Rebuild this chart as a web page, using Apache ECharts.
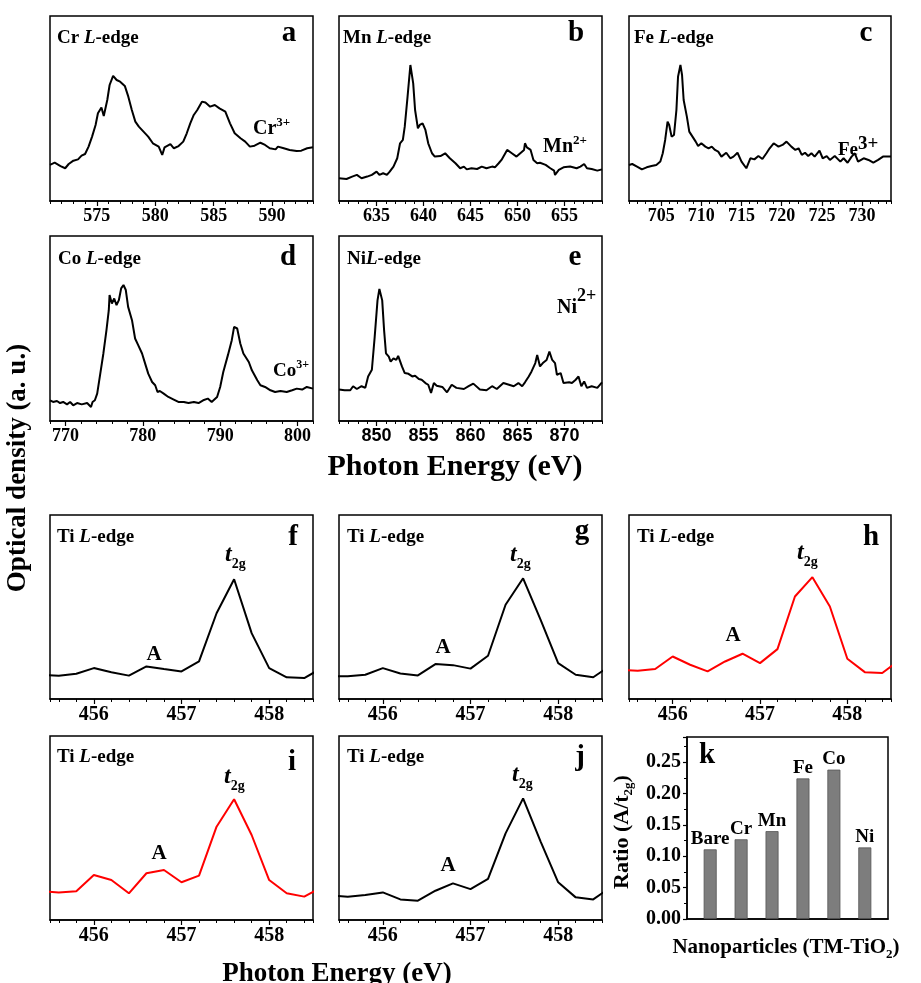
<!DOCTYPE html>
<html><head><meta charset="utf-8">
<script src="https://cdn.jsdelivr.net/npm/echarts@6/dist/echarts.min.js"></script>
<style>html,body{margin:0;padding:0;background:#fff}#c{width:921px;height:983px}</style>
</head><body><div id="c"></div>
<script>
// ---------- DATA ----------
const crEnergy = [571.0,571.4,571.9,572.3,572.6,573.0,573.4,573.7,574.0,574.3,574.6,574.9,575.1,575.4,575.6,575.9,576.1,576.4,576.7,577.0,577.4,577.7,578.0,578.3,578.6,579.0,579.4,579.8,580.3,580.6,580.8,581.3,581.6,582.0,582.4,582.7,583.0,583.3,583.6,584.0,584.3,584.7,585.1,585.5,586.0,586.4,586.8,587.3,587.7,588.1,588.5,589.0,589.4,589.8,590.3,590.5,591.0,591.5,592.1,592.5,593.0,593.5];
const crOD = [19.5,20.7,18.9,17.7,20.0,21.8,22.5,24.5,25.4,29.4,34.8,41.1,47.4,50.6,45.9,54.6,62.7,67.6,65.4,64.5,62.2,56.4,49.2,42.9,40.2,37.5,34.8,31.2,29.4,24.9,29.0,30.8,28.5,29.7,32.1,36.6,42.0,46.5,49.2,53.7,53.2,51.0,51.9,50.1,48.3,42.0,36.6,33.9,32.1,29.4,29.9,31.5,30.3,28.5,27.9,29.4,28.5,27.6,27.0,27.2,28.5,29.0];

const mnEnergy = [631.0,631.8,632.4,632.9,633.4,634.0,634.5,635.0,635.3,635.7,636.1,636.4,636.8,637.2,637.5,637.8,638.0,638.3,638.6,638.9,639.1,639.4,639.6,639.9,640.2,640.5,640.9,641.2,641.8,642.3,642.8,643.4,643.9,644.3,644.6,645.1,645.7,646.2,646.7,647.3,647.6,648.0,648.3,648.9,649.4,649.9,650.3,650.7,650.8,651.0,651.4,651.7,652.1,652.4,653.0,653.5,653.9,654.0,654.4,654.9,655.6,656.3,656.7,657.1,657.4,657.9,658.5,659.0];
const mnOD = [12.3,11.9,13.2,14.1,12.3,13.2,14.1,15.9,14.1,15.0,14.1,15.9,18.6,23.1,31.2,33.0,40.2,56.4,73.5,63.6,49.2,39.3,41.1,42.0,38.4,31.2,25.8,24.0,24.3,25.8,23.1,20.4,17.7,18.6,17.1,17.7,17.3,18.6,17.7,18.6,18.2,20.4,22.2,27.6,25.8,24.0,25.8,27.6,31.2,29.0,27.6,22.2,20.4,20.7,19.5,17.7,16.4,14.1,16.8,18.2,18.6,17.7,18.6,20.0,17.7,17.3,16.4,17.1];

const feEnergy = [701.0,701.4,702.0,702.6,703.2,703.8,704.4,704.9,705.2,705.5,705.8,706.0,706.3,706.6,706.9,707.1,707.4,707.6,707.8,708.2,708.5,708.9,709.3,709.6,710.0,710.5,710.9,711.3,711.7,712.1,712.5,713.1,713.6,714.0,714.5,715.0,715.6,716.1,716.6,717.1,717.6,718.1,718.5,719.0,719.6,720.1,720.6,721.2,721.7,722.1,722.5,722.9,723.3,723.7,724.1,724.7,725.1,725.6,726.0,726.6,727.3,727.7,728.2,728.7,729.1,729.5,730.2,730.8,731.4,732.0,732.6,733.6];
const feOD = [19.5,20.0,18.6,17.1,18.2,18.9,19.5,21.3,25.8,33.0,42.9,41.1,34.8,35.7,49.2,67.2,73.5,68.1,54.6,45.6,37.5,34.8,32.1,29.7,31.2,29.4,28.5,29.4,27.6,26.7,24.0,26.1,23.1,24.0,26.1,21.3,17.7,23.1,22.5,24.3,22.7,25.8,28.5,31.2,29.4,30.3,32.1,29.4,27.6,28.5,24.9,26.1,24.3,25.8,24.0,27.2,23.1,24.3,22.2,24.3,21.3,23.1,20.7,24.0,25.8,21.3,23.1,22.2,20.7,22.2,24.0,24.0];

const coEnergy = [768.0,768.4,768.9,769.3,769.7,770.2,770.6,771.0,771.5,772.1,772.8,773.3,773.5,773.8,774.1,774.5,774.9,775.3,775.6,775.7,776.0,776.3,776.6,776.9,777.2,777.5,777.8,778.1,778.6,779.0,779.4,779.9,780.3,780.7,781.2,781.6,781.9,782.2,782.7,783.3,784.0,784.6,785.3,785.9,786.6,787.2,787.8,788.4,788.9,789.6,790.0,790.4,791.0,791.5,791.8,792.2,792.6,793.0,793.7,794.1,794.8,795.2,795.8,796.5,797.1,797.8,798.6,799.3,799.9,800.6,801.2,802.0];
const coOD = [11.2,10.3,10.8,9.7,10.3,9.0,10.3,8.5,9.7,9.0,9.7,7.6,10.3,11.2,14.8,25.6,36.5,49.1,59.9,68.1,63.5,66.2,62.6,65.3,71.7,73.5,70.8,61.7,54.5,44.6,41.0,36.5,31.0,25.6,21.1,19.3,15.7,16.2,14.8,13.0,11.6,10.3,10.3,9.7,10.3,9.7,11.2,12.1,10.3,13.0,18.4,26.5,35.6,43.7,50.9,50.0,41.9,36.5,31.9,27.4,22.0,19.3,18.4,16.6,15.7,16.2,15.7,16.6,17.5,17.0,18.4,17.5];

const niEnergy = [846.0,846.6,847.2,847.5,847.9,848.4,848.8,849.1,849.5,849.8,850.1,850.3,850.6,850.8,851.0,851.3,851.5,851.8,852.1,852.3,852.7,853.0,853.4,853.8,854.1,854.5,854.8,855.2,855.5,855.8,856.1,856.4,857.0,857.5,858.0,858.5,859.3,859.8,860.3,861.0,861.7,862.3,862.8,863.5,864.1,864.6,865.1,865.5,865.8,866.2,866.5,866.9,867.1,867.4,867.7,868.1,868.4,868.7,869.0,869.2,869.6,869.9,870.5,870.8,871.2,871.5,871.8,872.1,872.4,872.9,873.5,874.0];
const niOD = [17.0,16.6,16.6,18.8,17.3,18.8,17.9,24.1,27.7,45.5,65.2,71.4,65.2,49.1,36.6,34.8,32.1,33.9,33.0,35.2,29.5,25.9,25.5,24.1,24.5,22.7,22.3,20.5,19.6,15.2,20.5,19.1,18.4,15.5,19.6,17.9,17.3,18.8,20.2,17.0,16.6,18.8,17.3,20.5,19.6,18.8,20.5,18.8,20.9,24.1,26.8,31.3,35.7,29.5,31.3,33.0,37.5,33.0,31.3,25.0,25.9,20.5,20.9,20.5,22.3,24.1,18.8,21.4,17.9,18.8,17.9,20.9];

const tiEnergy = [455.4,455.6,455.8,456.0,456.2,456.4,456.6,456.8,457.0,457.2,457.4,457.6,457.8,458.0,458.2,458.4,458.6];
const tiF = [13.0,12.7,13.7,16.8,14.5,12.7,17.7,16.3,15.0,20.4,46.6,65.1,35.8,16.8,11.8,11.4,16.8];
const tiG = [12.3,12.3,13.2,16.8,13.9,12.8,19.0,18.4,16.5,23.5,51.2,65.6,43.0,19.5,13.2,11.8,18.3];
const tiH = [15.7,15.4,16.3,23.1,18.6,15.0,20.4,24.6,19.5,27.1,55.7,66.2,50.3,21.9,14.6,14.1,21.3];
const tiI = [15.6,15.0,15.6,24.5,21.7,14.5,25.4,27.2,20.5,24.1,50.7,65.6,46.2,21.7,14.5,12.7,17.8];
const tiJ = [13.2,12.7,13.6,15.0,11.2,10.5,15.9,19.9,16.8,22.3,47.1,66.1,42.6,20.5,12.3,11.2,17.8];

const tmCategories = ['Bare','Cr','Mn','Fe','Co','Ni'];
const tmRatio = [0.111,0.127,0.140,0.224,0.238,0.114];

// ---------- LAYOUT ----------
const SERIF = '"Liberation Serif", "Times New Roman", serif';
const SANS = '"Liberation Sans", Arial, sans-serif';
const F = (s, it, fam) => (it ? 'italic ' : '') + 'bold ' + s + 'px ' + (fam || SERIF);

const panels = [
  {g:[50,16,263,185],  x:crEnergy, y:crOD, min:571, max:593.5, major:5, minor:1, fs:18},
  {g:[339,16,263,185], x:mnEnergy, y:mnOD, min:631, max:659, major:5, minor:1, fs:18},
  {g:[629,16,262,185], x:feEnergy, y:feOD, min:701, max:733.6, major:5, minor:1, fs:18},
  {g:[50,236,263,185], x:coEnergy, y:coOD, min:768, max:802, major:10, minor:2, fs:18},
  {g:[339,236,263,185],x:niEnergy, y:niOD, min:846, max:874, major:5, minor:1, fs:18, sans:true},
  {g:[50,515,263,184], x:tiEnergy, y:tiF, min:455.5, max:458.5, major:1, minor:0.2, fs:20},
  {g:[339,515,263,184],x:tiEnergy, y:tiG, min:455.5, max:458.5, major:1, minor:0.2, fs:20},
  {g:[629,515,262,184],x:tiEnergy, y:tiH, min:455.5, max:458.5, major:1, minor:0.2, fs:20, color:'#ff0000'},
  {g:[50,736,263,184], x:tiEnergy, y:tiI, min:455.5, max:458.5, major:1, minor:0.2, fs:20, color:'#ff0000'},
  {g:[339,736,263,184],x:tiEnergy, y:tiJ, min:455.5, max:458.5, major:1, minor:0.2, fs:20}
];

const grids = [], xAxes = [], yAxes = [], series = [];
panels.forEach((p, i) => {
  grids.push({left:p.g[0], top:p.g[1], width:p.g[2], height:p.g[3], show:true, borderColor:'#000', borderWidth:1.5});
  xAxes.push({
    gridIndex:i, type:'value', position:'bottom', min:p.min, max:p.max, minInterval:p.major, maxInterval:p.major,
    axisLine:{show:true, onZero:false, lineStyle:{color:'#000', width:1.5}},
    axisTick:{show:true, length:5, lineStyle:{color:'#000', width:1.2}},
    axisLabel:{show:true, color:'#000', fontFamily:p.sans ? SANS : SERIF, fontWeight:'bold', fontSize:p.fs, margin:6, showMinLabel:false, showMaxLabel:false},
    splitLine:{show:false}
  });
  xAxes.push({
    gridIndex:i, type:'value', position:'bottom', offset:0, min:p.min, max:p.max, minInterval:p.minor, maxInterval:p.minor,
    axisLine:{show:false, onZero:false}, axisTick:{show:true, length:3, lineStyle:{color:'#000', width:1}},
    axisLabel:{show:false}, splitLine:{show:false}
  });
  yAxes.push({gridIndex:i, type:'value', min:0, max:100, show:false});
  series.push({
    type:'line', xAxisIndex:2*i, yAxisIndex:i, data:p.x.map((v, j) => [v, p.y[j]]),
    showSymbol:false, symbol:'none', silent:true, clip:true,
    lineStyle:{color:p.color || '#000', width:2}, itemStyle:{color:p.color || '#000'}
  });
});

// panel k
grids.push({left:687, top:737, width:201, height:182, show:true, borderColor:'#000', borderWidth:1.5});
xAxes.push({gridIndex:10, type:'value', position:'bottom', min:0.25, max:6.75, axisLine:{show:true, lineStyle:{color:'#000', width:1.5}},
  axisTick:{show:false}, axisLabel:{show:false}, splitLine:{show:false}});
yAxes.push({gridIndex:10, type:'value', min:0, max:0.29, interval:0.05,
  axisLine:{show:true, lineStyle:{color:'#000', width:1.5}},
  axisTick:{show:true, length:4, lineStyle:{color:'#000', width:1.2}},
  minorTick:{show:true, splitNumber:2, length:3, lineStyle:{color:'#000', width:1}},
  axisLabel:{color:'#000', fontFamily:SERIF, fontWeight:'bold', fontSize:20, margin:6, showMaxLabel:false,
    formatter: v => v.toFixed(2)},
  splitLine:{show:false}});
series.push({
  type:'bar', xAxisIndex:20, yAxisIndex:10, barWidth:13, silent:true,
  data: tmCategories.map((c, i) => [i + 1, tmRatio[i]]),
  itemStyle:{color:'#7d7d7d', borderColor:'#555', borderWidth:0.8},
  label:{show:true, position:'top', distance:1, color:'#000', fontFamily:SERIF, fontWeight:'bold', fontSize:19,
    formatter: p => tmCategories[p.dataIndex]}
});

// ---------- TEXT ----------
function txt(x, base, text, rich, fs, align) {
  return {type:'text', x:x, y:base - 0.33 * fs, silent:true, z:100,
    style:{text:text, rich:rich || undefined, fill:'#000', font:F(fs),
      align:align || 'left', textAlign:align || 'left', verticalAlign:'middle', textVerticalAlign:'middle'}};
}
function rtxt(cx, cy, text, rich, fs, rot) {
  return {type:'text', x:cx, y:cy, rotation:rot, silent:true, z:100,
    style:{text:text, rich:rich || undefined, fill:'#000', font:F(fs),
      align:'center', textAlign:'center', verticalAlign:'middle', textVerticalAlign:'middle'}};
}
const titleRich = {n:{font:F(19), lineHeight:23}, i:{font:F(19, true), lineHeight:23}};
const t2gRich = {t:{font:F(24, true), lineHeight:28, verticalAlign:'top'}, s:{font:F(14), lineHeight:14, verticalAlign:'bottom'}};
const g = [];
// titles
[[57,44,'Cr '],[343,44,'Mn '],[634,44,'Fe '],[58,265,'Co '],[347,265,'Ni'],
 [57,543,'Ti '],[347,543,'Ti '],[637,543,'Ti '],[57,763,'Ti '],[347,763,'Ti ']].forEach(t => {
  g.push(txt(t[0], t[1], '{n|' + t[2] + '}{i|L}{n|-edge}', titleRich, 19));
});
// panel letters
[[289,43,'a'],[576,43,'b'],[866,43,'c'],[288,267,'d'],[575,267,'e'],
 [293,547,'f'],[582,541,'g'],[871,547,'h'],[292,772,'i'],[580,767,'j'],[707,765,'k']].forEach(t => {
  g.push(txt(t[0], t[1], t[2], null, 29, 'center'));
});
// ion labels
g.push(txt(253, 135, '{n|Cr}{s|3+}', {n:{font:F(20), lineHeight:24}, s:{font:F(13), lineHeight:14, verticalAlign:'top'}}, 20));
g.push(txt(543, 153, '{n|Mn}{s|2+}', {n:{font:F(20), lineHeight:24}, s:{font:F(13), lineHeight:14, verticalAlign:'top'}}, 20));
g.push(txt(838, 156, '{n|Fe}{s|3+}', {n:{font:F(19), lineHeight:30}, s:{font:F(19), lineHeight:20, verticalAlign:'top'}}, 19));
g.push(txt(273, 377, '{n|Co}{s|3+}', {n:{font:F(19), lineHeight:24}, s:{font:F(12), lineHeight:13, verticalAlign:'top'}}, 19));
g.push(txt(557, 314, '{n|Ni}{s|2+}', {n:{font:F(20), lineHeight:40}, s:{font:F(18), lineHeight:20, verticalAlign:'top'}}, 20));
// t2g and A labels
[[225,565],[510,565],[797,563],[224,787],[512,785]].forEach(t => {
  g.push(txt(t[0], t[1], '{t|t}{s|2g}', t2gRich, 24));
});
[[154,662],[443,655],[733,643],[159,861],[448,873]].forEach(t => {
  g.push(txt(t[0], t[1], 'A', null, 21, 'center'));
});
// axis titles
g.push(rtxt(18, 468, 'Optical density (a. u.)', null, 27, Math.PI / 2));
g.push(rtxt(455, 467, 'Photon Energy (eV)', null, 30, 0));
g.push(rtxt(337, 974, 'Photon Energy (eV)', null, 27, 0));
g.push(rtxt(622, 832, '{n|Ratio (A/t}{s|2g}{n|)}',
  {n:{font:F(22), lineHeight:26}, s:{font:F(13), lineHeight:13, verticalAlign:'bottom'}}, 22, Math.PI / 2));
g.push(rtxt(786, 948, '{n|Nanoparticles (TM-TiO}{s|2}{n|)}',
  {n:{font:F(21), lineHeight:26}, s:{font:F(13), lineHeight:13, verticalAlign:'bottom'}}, 21, 0));

const chart = echarts.init(document.getElementById('c'), null, {renderer:'canvas'});
chart.setOption({
  animation:false, backgroundColor:'#fff',
  grid:grids, xAxis:xAxes, yAxis:yAxes, series:series, graphic:{elements:g}
});
</script></body></html>
